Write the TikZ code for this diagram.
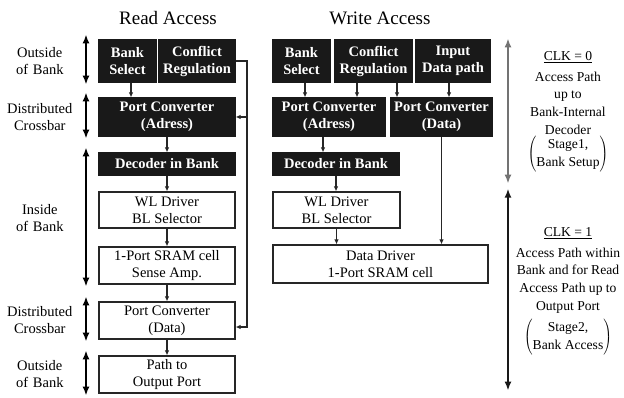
\documentclass[tikz,border=0pt]{standalone}
\usepackage{fontspec}
\setmainfont{Liberation Serif}
\usetikzlibrary{arrows.meta,positioning,calc}
\begin{document}
\begin{tikzpicture}[x=1pt,y=-1pt,>={Latex[length=5pt,width=4.5pt]},font=\fontsize{14.5}{17}\selectfont]
\tikzstyle{block}=[rectangle,inner sep=1pt,align=center,line width=1.2pt]
\tikzstyle{dark block}=[block,fill=black!90,draw=black!90,text=white,font=\fontsize{14.5}{17}\selectfont\bfseries]
\tikzstyle{light block}=[block,draw=black!85,fill=white]
\tikzstyle{link}=[->,line width=1.2pt,draw=black!85]
\tikzstyle{level}=[{Latex[length=9pt,width=7pt]}-{Latex[length=9pt,width=7pt]},line width=2pt]
\tikzstyle{annot}=[text width=72pt,align=center,inner sep=0pt]
\tikzstyle{clk}=[align=center,inner sep=0pt,anchor=north,font=\fontsize{13.6}{17.6}\selectfont]

\useasboundingbox (0,0) rectangle (624,398);

% Titles
\node (read) at (168,18) {\fontsize{19}{22}\selectfont Read Access};
\node (write) at (380,18) {\fontsize{19}{22}\selectfont Write Access};

% Read access path
\node[dark block,minimum width=57pt,minimum height=42pt] (rbs) at (127.5,61) {Bank\\Select};
\node[dark block,minimum width=76pt,minimum height=42pt] (rcr) at (197,61) {Conflict\\Regulation};
\node[dark block,minimum width=136pt,minimum height=38pt] (rpa) at (167,117) {Port Converter\\(Adress)};
\node[dark block,minimum width=136pt,minimum height=22pt] (rdec) at (167,164) {Decoder in Bank};
\node[light block,minimum width=136pt,minimum height=36pt] (rwl) at (167,210) {WL Driver\\BL Selector};
\node[light block,minimum width=136pt,minimum height=37pt] (rsram) at (167,265.5) {1-Port SRAM cell\\Sense Amp.};
\node[light block,minimum width=136pt,minimum height=37pt] (rpd) at (167,320.5) {Port Converter\\(Data)};
\node[light block,minimum width=136pt,minimum height=37pt] (rout) at (167,374.5) {Path to\\Output Port};

% Write access path
\node[dark block,minimum width=57pt,minimum height=42pt] (wbs) at (301.5,61) {Bank\\Select};
\node[dark block,minimum width=77pt,minimum height=42pt] (wcr) at (373.5,61) {Conflict\\Regulation};
\node[dark block,minimum width=74pt,minimum height=42pt] (wid) at (453,61) {Input\\Data path};
\node[dark block,minimum width=112pt,minimum height=38pt] (wpa) at (329,117) {Port Converter\\(Adress)};
\node[dark block,minimum width=101pt,minimum height=38pt] (wpd) at (441.5,117) {Port Converter\\(Data)};
\node[dark block,minimum width=126pt,minimum height=22pt] (wdec) at (336,164) {Decoder in Bank};
\node[light block,minimum width=127pt,minimum height=36pt] (wwl) at (336.5,210) {WL Driver\\BL Selector};
\node[light block,minimum width=215pt,minimum height=38pt] (wdd) at (380.5,264) {Data Driver\\1-Port SRAM cell};

% Connect the read boxes
\draw[link] ([xshift=3.5pt]rbs.south) -- ([xshift=3.5pt]rbs.south |- rpa.north);
\foreach \source/\dest in {rpa/rdec,rdec/rwl,rwl/rsram,rsram/rpd,rpd/rout}
  \path (\source) edge[link] (\dest);

% Conflict regulation feeds both port converters
\coordinate (bus) at (247,0);
\draw[link] (rcr.east) -- (rcr.east -| bus) |- ([yshift=-6.5pt]rpd.east);
\draw[link] (rpa.east -| bus) -- (rpa.east);

% Connect the write boxes
\draw[link] ([xshift=3.5pt]wbs.south) -- ([xshift=3.5pt]wbs.south |- wpa.north);
\draw[link] ([xshift=-16.5pt]wcr.south) -- ([xshift=-16.5pt]wcr.south |- wpa.north);
\draw[link] ([xshift=23.5pt]wcr.south) -- ([xshift=23.5pt]wcr.south |- wpd.north);
\draw[link] ([xshift=-4pt]wid.south) -- ([xshift=-4pt]wid.south |- wpd.north);
\draw[link] ([xshift=-6pt]wpa.south) -- ([xshift=-6pt]wpa.south |- wdec.north);
\draw[link] (wdec.south) -- (wdec.south |- wwl.north);
\draw[link] (wwl.south) -- (wwl.south |- wdd.north);
\draw[link] (wpd.south) -- (wpd.south |- wdd.north);

% Location arrows on the left
\coordinate (lx) at (86,0);
\coordinate (inmid) at ($(rdec.north)!.5!(rsram.south)$);
\foreach \top/\bot in {rbs/rbs,rpa/rpa,rdec/rsram,rpd/rpd,rout/rout}
  \draw[level] ([yshift=5pt]\top.north -| lx) -- ([yshift=-2pt]\bot.south -| lx);

\node[annot,anchor=east] (out1) at ([xshift=-10pt]rbs.west -| lx) {Outside\\of Bank};
\node[annot,anchor=east] (xbar1) at ([xshift=-10pt]rpa.west -| lx) {Distributed\\Crossbar};
\node[annot,anchor=east] (inside) at ([xshift=-10pt]inmid -| lx) {Inside\\of Bank};
\node[annot,anchor=east] (xbar2) at ([xshift=-10pt]rpd.west -| lx) {Distributed\\Crossbar};
\node[annot,anchor=east] (out2) at ([xshift=-10pt]rout.west -| lx) {Outside\\of Bank};

% Clock phases on the right
\coordinate (rx) at (508,0);
\draw[level,black!55] ([yshift=1pt]wid.north -| rx) -- ([yshift=-8pt]wdec.south -| rx);
\draw[level,black!90] ([yshift=-13pt]wdec.south -| rx) -- ([yshift=3pt]rout.south -| rx);

\node[clk] (stage1) at (568,51) {\underline{CLK = 0}\\[3.5pt]
  Access Path\\up to\\Bank-Internal\\Decoder\\[1pt]
  $\left(\begin{tabular}{@{}c@{}}Stage1,\\Bank Setup\end{tabular}\right)$};
\node[clk] (stage2) at (568,227) {\underline{CLK = 1}\\[3.5pt]
  Access Path within\\Bank and for Read\\Access Path up to\\Output Port\\[5pt]
  $\left(\begin{tabular}{@{}c@{}}Stage2,\\Bank Access\end{tabular}\right)$};

\end{tikzpicture}
\end{document}
